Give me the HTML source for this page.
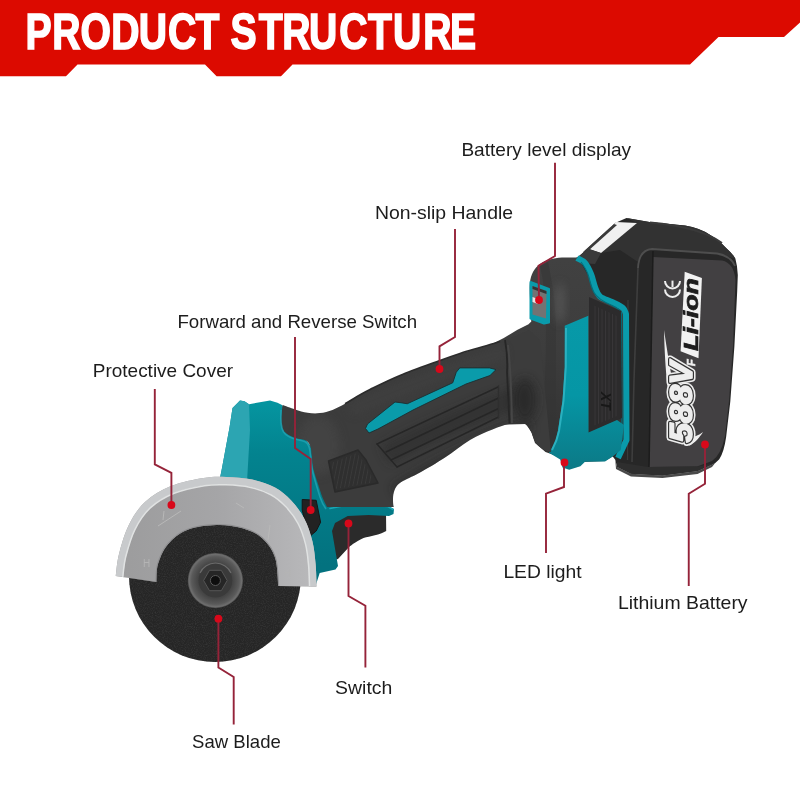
<!DOCTYPE html>
<html><head><meta charset="utf-8">
<style>
html,body{margin:0;padding:0;background:#fff;width:800px;height:800px;overflow:hidden}
svg{display:block;will-change:transform}
.lbl{font-family:"Liberation Sans",sans-serif;font-size:18.5px;fill:#1c1c1c}
.ttl{font-family:"Liberation Sans",sans-serif;font-weight:bold;font-size:50px;fill:#fff}
.ln{fill:none;stroke:#952339;stroke-width:1.9}
.dot{fill:#d8081a}
.bi{font-family:"Liberation Sans",sans-serif;font-weight:bold;font-style:italic}
</style></head>
<body>
<svg width="800" height="800" viewBox="0 0 800 800">
<defs>
  <filter id="soft" x="-50%" y="-50%" width="200%" height="200%"><feGaussianBlur stdDeviation="5"/></filter>
  <filter id="noise" x="0" y="0" width="100%" height="100%">
    <feTurbulence type="fractalNoise" baseFrequency="0.9" numOctaves="2" seed="3" result="n"/>
    <feColorMatrix type="matrix" values="0 0 0 0 0.05  0 0 0 0 0.05  0 0 0 0 0.05  0 0 0 1.4 -0.6" in="n" result="c"/>
    <feComposite in="c" in2="SourceGraphic" operator="in"/>
  </filter>
  <radialGradient id="gNut" cx="0.5" cy="0.5" r="0.5">
    <stop offset="0" stop-color="#3c3c3c"/>
    <stop offset="0.65" stop-color="#464646"/>
    <stop offset="0.86" stop-color="#5a5a5a"/>
    <stop offset="0.95" stop-color="#6e6e6e"/>
    <stop offset="1" stop-color="#505050"/>
  </radialGradient>
  <linearGradient id="gTealF" gradientUnits="userSpaceOnUse" x1="0" y1="405" x2="0" y2="565">
    <stop offset="0" stop-color="#05949f"/>
    <stop offset="0.3" stop-color="#03838f"/>
    <stop offset="1" stop-color="#03727f"/>
  </linearGradient>
  <linearGradient id="gTealR" gradientUnits="userSpaceOnUse" x1="0" y1="320" x2="0" y2="470">
    <stop offset="0" stop-color="#0799a8"/>
    <stop offset="0.5" stop-color="#0596a5"/>
    <stop offset="1" stop-color="#0c7986"/>
  </linearGradient>
  <linearGradient id="gGuardH" gradientUnits="userSpaceOnUse" x1="120" y1="0" x2="316" y2="0">
    <stop offset="0" stop-color="#9c9c9d"/>
    <stop offset="0.5" stop-color="#a5a5a7"/>
    <stop offset="1" stop-color="#b9b9bb"/>
  </linearGradient>
  <linearGradient id="gHous" gradientUnits="userSpaceOnUse" x1="0" y1="260" x2="0" y2="460">
    <stop offset="0" stop-color="#414141"/>
    <stop offset="0.45" stop-color="#3d3d3d"/>
    <stop offset="1" stop-color="#303030"/>
  </linearGradient>
  <linearGradient id="gGuard" x1="0" y1="0" x2="0" y2="1">
    <stop offset="0" stop-color="#d2d2d2"/>
    <stop offset="1" stop-color="#bdbdbd"/>
  </linearGradient>
</defs>
<!-- banner -->
<polygon fill="#dc0a00" points="0,0 800,0 800,22.5 784,37 718.5,37 690,64.5 292.5,64.5 281,76.3 216.6,76.3 205,64.6 77.5,64.4 66,76.25 0,76.25"/>
<g transform="translate(0,49.3) scale(0.783,1)"><text class="ttl" y="0" stroke="#fff" stroke-width="1.6" x="32.69 66.67 102.81 142.02 177.14 214.43 249.68 294.38 330.33 360.54 394.76 433.21 469.86 501.92 540.61 574.84">PRODUCTSTRUCTURE</text></g>

<!-- ===== TOOL ===== -->
<g id="tool">
  <!-- ===== battery ===== -->
  <path fill="#272727" d="M576,259 L615,223 L626.5,218 L650.9,222.2 L685,225.4 Q700,228 709.4,234.4 Q720,241 725.6,247.4 Q733,254 735.4,258.7 Q737.5,266 737.8,275 L737.2,291.3 L734.4,346.3 L730.3,401.4 L726.1,437.2 Q724,452 719.3,459.2 L715,463.25 L697.5,471 L662.5,475.5 L631,473.75 L617,466.75 L615.25,459.75 L600,440 L592,300 Z"/>
  <path fill="#323232" d="M626.5,218 L650.9,222.2 L685,225.4 Q700,228 709.4,234.4 Q720,241 725.6,247.4 Q733,254 735.4,258.7 L717,253.5 L652,249 Q641,250 638,262 L620,250 L601,253 L637,223 Z"/>
  <!-- face frame highlight -->
  <path fill="none" stroke="#4e4e4e" stroke-width="1.8" d="M638,268 Q639,250 652,249 L717,253.5 Q731,256 735,266"/>
  <path fill="none" stroke="#3e3e3e" stroke-width="1.6" d="M638,268 L634,380 L632,462"/>
  <!-- face inner panel -->
  <path fill="#424042" d="M653,257 L722,260.5 Q734,263 735.5,280 L733,346 L729,401 L725,436 Q721,455 712,461 L697,466.5 L649,467 Z"/>
  <path fill="none" stroke="#1c1c1c" stroke-width="1.5" d="M653,251 L649,467"/>
  <path fill="none" stroke="#3a3a3a" stroke-width="1.2" d="M628,300 L627.5,460"/>
  <!-- top highlight curve -->
  <path fill="none" stroke="#3a3a3a" stroke-width="2" d="M650,222.5 Q700,227 722,243"/>
  <!-- white stripe -->
  <polygon fill="#f0f0f0" points="589,249 616,222 637,223 601,253"/>
  <polygon fill="#3a3a3a" points="583,252 614,224 617,225 588,251"/>
  <polygon fill="#3a3a3a" points="576,258 589,249 601,253 595,264 580,263"/>
  <!-- base plate -->
  <path fill="#4a4a4a" d="M615.25,459.75 L617,466.75 L631,473.75 L662.5,475.5 L697.5,471 L715,463.25 L712,467 L697.5,474 L662.5,478 L631,476.5 L616,469 Z"/>
  <path fill="#2e2e2e" d="M617,462 L648,467 L697,466.5 L715,463.25 L697.5,471 L662.5,475.5 L631,473.75 L617,466.75 Z"/>

  <!-- CE -->
  <g fill="none" stroke="#eee" stroke-width="2">
    <path d="M665,281 A7.5,7.5 0 0 0 680,281"/>
    <path d="M665,289.5 A7.5,7.5 0 0 0 680,289.5"/>
    <path d="M672.5,280.6 L672.5,287"/>
  </g>
  <!-- Li-ion box -->
  <polygon fill="#f2f2f2" points="684.7,271.7 701.9,277.9 698.5,358.2 680.6,351.3"/>
  <text class="bi" font-size="20" fill="#1e1e1e" stroke="#1e1e1e" stroke-width="0.7" transform="translate(697.5,351) rotate(-90)" textLength="73" lengthAdjust="spacingAndGlyphs">Li-ion</text>
  <!-- swoosh -->
  <path fill="#f0f0f0" d="M664,330 C665,370 668,405 676,427.5 C680,437 684,442 689.5,445.5 C695,443 700,437 703,432 C698,436 692,438 688,437 C681,425 676,400 673,385 C670,368 667,350 664,330 Z"/>
  <!-- 588V -->
  <g transform="translate(692,442.5) rotate(-90)">
    <text class="bi" font-size="32" x="0" y="0" fill="#eee" stroke="#eee" stroke-width="7" stroke-linejoin="round" textLength="81" lengthAdjust="spacingAndGlyphs">588V</text>
    <text class="bi" font-size="32" x="0" y="0" fill="#333" stroke="#333" stroke-width="4" stroke-linejoin="round" textLength="81" lengthAdjust="spacingAndGlyphs">588V</text>
    <text class="bi" font-size="32" x="0" y="0" fill="#eee" stroke="#eee" stroke-width="1.6" stroke-linejoin="round" textLength="81" lengthAdjust="spacingAndGlyphs">588V</text>
  </g>
  <text class="bi" font-size="11" fill="#eee" stroke="#eee" stroke-width="0.6" transform="translate(695,366) rotate(-90)">F</text>

  <!-- ===== rear housing ===== -->
  <path fill="url(#gHous)" d="M490,345 L503.8,338 L517.5,329.8 L528.5,324.3 L531.3,321.5 C531.1,317.9 530.2,306.4 530.0,300.0 C529.8,293.6 529.4,287.7 529.9,283.0 C530.4,278.3 531.3,275.2 533.0,272.0 C534.7,268.8 537.2,266.1 540.0,264.0 C542.8,261.9 546.3,260.6 550.0,259.5 C553.7,258.4 557.3,257.9 562.0,257.6 C566.7,257.3 575.3,257.6 578.0,257.6 L600,297 L626,309 L627,440 L620,452 L605,461 L582,462 L570,467.5 L559.5,457 L545.5,452 L535,443 L531.5,432.5 L526,424 L490,425 Z"/>
  <!-- shading band -->
  <path fill="#333" opacity="0.5" d="M548,262 Q556,300 556,330 L556,440 L545,450 L540,440 Q546,400 546,330 Q546,290 540,266 Z"/>
  <ellipse cx="560" cy="303" rx="5" ry="20" fill="#5a5a5a" opacity="0.8" filter="url(#soft)"/>
  <!-- teal trim -->
  <path fill="none" stroke="#0a9bab" stroke-width="6" stroke-linejoin="round" d="M577,258 C578.3,258.8 582.7,260.3 585.0,263.0 C587.3,265.7 589.3,270.0 591.0,274.0 C592.7,278.0 593.5,283.2 595.0,287.0 C596.5,290.8 597.2,294.0 600.0,296.5 C602.8,299.0 608.2,300.1 612.0,302.0 C615.8,303.9 620.7,306.0 623.0,308.0 C625.3,310.0 625.5,313.0 626.0,314.0 L626.5,440 L618,458"/>
  <path fill="none" stroke="#056f7c" stroke-width="1.2" d="M581,262 C584,266 587,271 588.5,276 C590,282 591.5,288 594,292.5 C597,298 604,302 611,305 C616,307.5 620,309 621.5,313 L622,440"/>
  <!-- textured dark panel -->
  <polygon fill="#2c2b2c" points="589,297 621,311 622,418 589,432.5"/>
  <clipPath id="cpTex"><polygon points="593,305 617,316 617,416 593,426"/></clipPath>
  <g clip-path="url(#cpTex)" stroke="#383638" stroke-width="1.1">
    <path d="M595,300 V430 M598.5,300 V430 M602,300 V430 M605.5,300 V430 M609,300 V430 M612.5,300 V430 M616,300 V430"/>
  </g>
  <!-- teal side panel -->
  <path fill="url(#gTealR)" d="M564.7,325.8 L588.3,315.7 L588.5,432.5 L617,420 L624,425 L620.75,450 L612,457 L605,461.4 L585,461.8 L580.4,466.3 L569.2,469.7 L562.5,467.4 L560.2,459.6 L549,452.8 L553.5,446 Q557,438 558,430.3 L562.5,401 L564.7,367.4 Z"/>
  <path fill="none" stroke="#2bb0bf" stroke-width="2" d="M566,328 L565.8,367 L563.5,401 L559,431 Q557,441 552,450"/>
  <!-- XT mark -->
  <text class="bi" font-size="14" fill="#181818" transform="translate(601,392) rotate(90)">XT</text>
  <!-- battery display -->
  <polygon fill="#0a9bab" stroke="#0a9bab" stroke-width="2" stroke-linejoin="round" points="530.5,282 549,289 549,322.5 544,323.5 530.5,318.5"/>
  <polygon fill="#737373" points="532.5,286 546.5,291 546,318.5 532.5,314.5"/><polygon fill="#333" points="532.5,286 546.5,291 546.5,294 532.5,289"/>
  <polygon fill="#e8e8e8" points="532.5,297 538,299 538,304 532.5,302"/>

  <!-- trigger -->
  <path fill="#2b2b2b" d="M326,520 L345,510 L386,510 L386.2,531 C380,535 370,536 363.5,538 C355,542 350,546 347.7,548.5 L338,559 L328,562 Z"/>
  <!-- ===== front teal housing ===== -->
  <path fill="url(#gTealF)" d="M232.5,408 L240,400.5 L244.5,401.25 L249,404.25 L270,400.5 L277.5,402.75 L282,405 L290,420 L330,470 L338,503 L342.5,505.5 L368.7,504.5 L388,506 L394,509 L393.5,514 L389,516 L368.7,515 L347.7,516 L335,523 L332,531 L338,566 L335.5,569.4 L319.7,573 L315.6,585.7 L260,560 L215,520 L220,478 L222,468 L229.5,427.5 Z"/>
  <path fill="none" stroke="#1aa6b5" stroke-width="1.6" stroke-linecap="round" d="M330,508.5 L342.5,506 L368.7,505 L388,506.5 L393,509.5"/>
  <!-- lighter left face -->
  <path fill="#2ca5b2" d="M232.5,408 L240,400.5 L244.5,401.25 L249,404.25 L250,430 L247,482 L220,478 L222,468 L229.5,427.5 Z"/>
  <!-- handle + front dark body -->
  <path fill="#3c3c3c" d="M282.5,405 C284.6,405.7 290.8,408.1 295.0,409.4 C299.2,410.7 303.3,412.1 307.5,412.8 C311.7,413.4 315.8,413.6 320.0,413.1 C324.2,412.6 328.3,411.6 332.5,410.0 C336.7,408.4 340.8,406.0 345.0,403.8 C349.2,401.5 353.3,398.6 357.5,396.2 C361.7,393.9 362.9,393.0 370.0,389.5 C377.1,386.0 388.3,380.3 400.0,375.5 C411.7,370.7 430.0,364.2 440.0,360.5 C450.0,356.8 453.3,355.7 460.0,353.5 C466.7,351.3 473.3,349.5 480.0,347.5 C486.7,345.5 494.7,343.2 500.0,341.5 C505.3,339.8 507.2,339.4 512.0,337.5 C516.8,335.6 526.2,331.2 529.0,330.0 L540,340 L551,452 C550.0,451.8 547.5,452.0 545.0,450.5 C542.5,449.0 538.5,446.5 536.0,443.0 C533.5,439.5 532.2,432.9 530.0,429.5 C527.8,426.1 525.8,423.8 522.5,422.8 C519.2,421.8 515.5,422.4 510.5,423.5 C505.5,424.6 499.2,426.8 492.5,429.5 C485.8,432.2 477.9,435.3 470.0,440.0 C462.1,444.7 453.3,452.1 445.0,457.5 C436.7,462.9 426.7,468.8 420.0,472.5 C413.3,476.2 408.8,477.9 405.0,480.0 C401.2,482.1 399.4,482.9 397.5,485.0 C395.6,487.1 394.5,489.8 393.8,492.5 C393.0,495.2 393.0,498.1 393.0,501.0 C393.0,503.9 393.6,506.5 393.8,507.0 L327,507 C326.2,505.4 324.0,501.3 322.5,497.5 C321.0,493.7 319.5,488.8 318.0,484.0 C316.5,479.2 314.5,473.5 313.5,469.0 C312.5,464.5 312.5,460.8 312.0,457.0 C311.5,453.2 311.5,449.2 310.5,446.5 C309.5,443.8 308.8,442.0 306.0,440.5 C303.2,439.0 297.6,439.0 294.0,437.5 C290.4,436.0 286.4,434.0 284.2,431.5 C282.1,429.0 281.5,426.9 281.2,422.5 C281.0,418.1 282.3,407.9 282.5,405.0 Z"/>
  <clipPath id="cpBody"><path d="M282.5,405 C284.6,405.7 290.8,408.1 295.0,409.4 C299.2,410.7 303.3,412.1 307.5,412.8 C311.7,413.4 315.8,413.6 320.0,413.1 C324.2,412.6 328.3,411.6 332.5,410.0 C336.7,408.4 340.8,406.0 345.0,403.8 C349.2,401.5 353.3,398.6 357.5,396.2 C361.7,393.9 362.9,393.0 370.0,389.5 C377.1,386.0 388.3,380.3 400.0,375.5 C411.7,370.7 430.0,364.2 440.0,360.5 C450.0,356.8 453.3,355.7 460.0,353.5 C466.7,351.3 473.3,349.5 480.0,347.5 C486.7,345.5 494.7,343.2 500.0,341.5 C505.3,339.8 507.2,339.4 512.0,337.5 C516.8,335.6 526.2,331.2 529.0,330.0 L540,340 L551,452 C550.0,451.8 547.5,452.0 545.0,450.5 C542.5,449.0 538.5,446.5 536.0,443.0 C533.5,439.5 532.2,432.9 530.0,429.5 C527.8,426.1 525.8,423.8 522.5,422.8 C519.2,421.8 515.5,422.4 510.5,423.5 C505.5,424.6 499.2,426.8 492.5,429.5 C485.8,432.2 477.9,435.3 470.0,440.0 C462.1,444.7 453.3,452.1 445.0,457.5 C436.7,462.9 426.7,468.8 420.0,472.5 C413.3,476.2 408.8,477.9 405.0,480.0 C401.2,482.1 399.4,482.9 397.5,485.0 C395.6,487.1 394.5,489.8 393.8,492.5 C393.0,495.2 393.0,498.1 393.0,501.0 C393.0,503.9 393.6,506.5 393.8,507.0 L327,507 C326.2,505.4 324.0,501.3 322.5,497.5 C321.0,493.7 319.5,488.8 318.0,484.0 C316.5,479.2 314.5,473.5 313.5,469.0 C312.5,464.5 312.5,460.8 312.0,457.0 C311.5,453.2 311.5,449.2 310.5,446.5 C309.5,443.8 308.8,442.0 306.0,440.5 C303.2,439.0 297.6,439.0 294.0,437.5 C290.4,436.0 286.4,434.0 284.2,431.5 C282.1,429.0 281.5,426.9 281.2,422.5 C281.0,418.1 282.3,407.9 282.5,405.0 Z"/></clipPath>
  <g clip-path="url(#cpBody)">
    <ellipse cx="318" cy="445" rx="22" ry="30" fill="#484848" opacity="0.55" filter="url(#soft)"/>
    <path d="M350,410 Q420,380 505,352" fill="none" stroke="#454545" stroke-width="12" opacity="0.45" filter="url(#soft)"/>
    <path d="M395,492 Q450,455 530,425" fill="none" stroke="#262626" stroke-width="12" opacity="0.6" filter="url(#soft)"/>
    <path d="M385,455 Q450,420 525,395" fill="none" stroke="#2c2c2c" stroke-width="22" opacity="0.5" filter="url(#soft)"/>
    <ellipse cx="525" cy="400" rx="12" ry="22" fill="#282828" opacity="0.7" filter="url(#soft)"/>
  </g>
  <path fill="none" stroke="#2c2c2c" stroke-width="1.6" d="M345.0,403.8 C349.2,401.5 353.3,398.6 357.5,396.2 C361.7,393.9 362.9,393.0 370.0,389.5 C377.1,386.0 388.3,380.3 400.0,375.5 C411.7,370.7 430.0,364.2 440.0,360.5 C450.0,356.8 453.3,355.7 460.0,353.5 C466.7,351.3 473.3,349.5 480.0,347.5 C486.7,345.5 494.7,343.2 500.0,341.5"/>
  <path fill="none" stroke="#22a3b3" stroke-width="1.6" opacity="0.8" d="M281,410 C280.5,418 280.5,427 283.5,432 C286,435.5 291,437.8 294,438.8 C298,440 303.5,440.5 305.5,442 C308.5,444 309.5,447 310,451 C310.5,456 311,462 312,469 C313.5,476 316,484 320,497 C322,503 324.5,507 326,509"/>
  <!-- handle collar -->
  <path fill="none" stroke="#262626" stroke-width="1.8" d="M505,340 Q508,356 507,372 L509.5,423.5"/><path fill="none" stroke="#464646" stroke-width="2" d="M508,345 Q511,370 512,423"/>
  <!-- grip lines -->
  <g fill="none" stroke="#262626" stroke-width="1.4" stroke-linecap="round">
    <path d="M377,444 L498,387"/>
    <path d="M386,452 L498.5,398"/>
    <path d="M391,460 L498.5,408.5"/>
    <path d="M397,467 L498.5,417"/>
    <path d="M377,444 L397,467"/>
    <path d="M498.5,386 L498.5,418" stroke="#2e2e2e"/>
  </g>
  <!-- handle teal stripe -->
  <polygon fill="#0a9baa" stroke="#1b2f31" stroke-width="0.9" stroke-linejoin="round" points="365.5,428.5 367.5,424 395,402 402,402.9 407.25,403.75 452.75,382.75 456.25,372.25 459.75,367.9 489.5,367.9 496,369.6 490,375.5 466,384 413,410 378,429 369,433"/>
  <!-- textured patch -->
  <polygon fill="#2f2f2f" stroke="#2a2a2a" stroke-width="1.5" stroke-linejoin="round" points="328.5,461 358,450 366,460 378,483 335,492"/>
  <clipPath id="cpTex2"><polygon points="331,463 357,453 364,462 375,482 336,489"/></clipPath>
  <g clip-path="url(#cpTex2)" stroke="#3a3a3a" stroke-width="1">
    <path d="M328,490 L336,450 M332,490 L340,450 M336,490 L344,450 M340,490 L348,450 M344,490 L352,450 M348,490 L356,450 M352,490 L360,450 M356,490 L364,450 M360,490 L368,450 M364,490 L372,450 M368,490 L376,450"/>
  </g>
  <!-- fwd/rev switch -->
  <path fill="#222" stroke="#151515" stroke-width="1" stroke-linejoin="round" d="M302.2,499.5 L316.2,500.3 L320.6,522.2 L316.2,531 L311,535.3 L306.6,527.5 L302.2,510 Z"/>

  <!-- ===== disc ===== -->
  <circle cx="215" cy="576" r="86" fill="#262626"/>
  <circle cx="215" cy="576" r="86" fill="#262626" filter="url(#noise)"/>
  <!-- ===== guard ===== -->
  <clipPath id="cpG"><path d="M115.75,576 C116.3,572.3 116.8,562.5 119.0,554.0 C121.2,545.5 124.4,533.7 128.8,525.0 C133.1,516.3 138.0,508.5 145.0,502.0 C152.0,495.5 161.2,490.0 171.0,486.0 C180.8,482.0 194.3,479.4 203.5,477.9 C212.7,476.4 218.1,476.6 226.2,476.9 C234.4,477.2 244.1,477.7 252.2,479.5 C260.4,481.3 268.5,484.1 275.0,487.6 C281.5,491.1 286.4,495.5 291.2,500.6 C296.1,505.8 300.7,511.7 304.2,518.5 C307.8,525.3 310.5,533.7 312.4,541.2 C314.3,548.8 314.9,556.5 315.6,564.0 C316.3,571.5 316.4,582.8 316.6,586.5 L278.25,586 C277.7,581.2 277.7,565.5 275.0,557.5 C272.3,549.5 267.4,542.9 262.0,538.0 C256.6,533.1 250.1,530.4 242.5,528.2 C234.9,526.1 225.7,524.7 216.5,525.0 C207.3,525.3 195.4,526.6 187.2,529.9 C179.1,533.1 172.6,538.8 167.8,544.5 C162.9,550.2 159.9,557.8 158.0,564.0 C156.1,570.2 156.7,578.9 156.4,581.9 Z"/></clipPath>
  <path fill="url(#gGuardH)" d="M115.75,576 C116.3,572.3 116.8,562.5 119.0,554.0 C121.2,545.5 124.4,533.7 128.8,525.0 C133.1,516.3 138.0,508.5 145.0,502.0 C152.0,495.5 161.2,490.0 171.0,486.0 C180.8,482.0 194.3,479.4 203.5,477.9 C212.7,476.4 218.1,476.6 226.2,476.9 C234.4,477.2 244.1,477.7 252.2,479.5 C260.4,481.3 268.5,484.1 275.0,487.6 C281.5,491.1 286.4,495.5 291.2,500.6 C296.1,505.8 300.7,511.7 304.2,518.5 C307.8,525.3 310.5,533.7 312.4,541.2 C314.3,548.8 314.9,556.5 315.6,564.0 C316.3,571.5 316.4,582.8 316.6,586.5 L278.25,586 C277.7,581.2 277.7,565.5 275.0,557.5 C272.3,549.5 267.4,542.9 262.0,538.0 C256.6,533.1 250.1,530.4 242.5,528.2 C234.9,526.1 225.7,524.7 216.5,525.0 C207.3,525.3 195.4,526.6 187.2,529.9 C179.1,533.1 172.6,538.8 167.8,544.5 C162.9,550.2 159.9,557.8 158.0,564.0 C156.1,570.2 156.7,578.9 156.4,581.9 Z"/>
  <g clip-path="url(#cpG)">
    <path fill="none" stroke="#c8cacc" stroke-width="15" d="M115.75,576 C116.3,572.3 116.8,562.5 119.0,554.0 C121.2,545.5 124.4,533.7 128.8,525.0 C133.1,516.3 138.0,508.5 145.0,502.0 C152.0,495.5 161.2,490.0 171.0,486.0 C180.8,482.0 194.3,479.4 203.5,477.9 C212.7,476.4 218.1,476.6 226.2,476.9 C234.4,477.2 244.1,477.7 252.2,479.5 C260.4,481.3 268.5,484.1 275.0,487.6 C281.5,491.1 286.4,495.5 291.2,500.6 C296.1,505.8 300.7,511.7 304.2,518.5 C307.8,525.3 310.5,533.7 312.4,541.2 C314.3,548.8 314.9,556.5 315.6,564.0 C316.3,571.5 316.4,582.8 316.6,586.5"/>
    <path fill="none" stroke="#e0e2e2" stroke-width="1.6" transform="translate(216,590) scale(0.93) translate(-216,-590)" d="M115.75,576 C116.3,572.3 116.8,562.5 119.0,554.0 C121.2,545.5 124.4,533.7 128.8,525.0 C133.1,516.3 138.0,508.5 145.0,502.0 C152.0,495.5 161.2,490.0 171.0,486.0 C180.8,482.0 194.3,479.4 203.5,477.9 C212.7,476.4 218.1,476.6 226.2,476.9 C234.4,477.2 244.1,477.7 252.2,479.5 C260.4,481.3 268.5,484.1 275.0,487.6 C281.5,491.1 286.4,495.5 291.2,500.6 C296.1,505.8 300.7,511.7 304.2,518.5 C307.8,525.3 310.5,533.7 312.4,541.2 C314.3,548.8 314.9,556.5 315.6,564.0 C316.3,571.5 316.4,582.8 316.6,586.5"/>
    <path fill="none" stroke="#8e8e90" stroke-width="2" d="M278.25,586 C277.7,581.2 277.7,565.5 275.0,557.5 C272.3,549.5 267.4,542.9 262.0,538.0 C256.6,533.1 250.1,530.4 242.5,528.2 C234.9,526.1 225.7,524.7 216.5,525.0 C207.3,525.3 195.4,526.6 187.2,529.9 C179.1,533.1 172.6,538.8 167.8,544.5 C162.9,550.2 159.9,557.8 158.0,564.0 C156.1,570.2 156.7,578.9 156.4,581.9"/>
    <path fill="none" stroke="#909090" stroke-width="2" d="M115.7,577.5 L156.4,582.5 M278.25,587 L316.6,587.5"/>
    <!-- markings -->
    <path fill="none" stroke="#b8b8b8" stroke-width="1" d="M158,526 L181,511 M164,511 L163,520 M236,503 L244,508 M268,540 L270,525"/>
    <text x="143" y="567" font-family="Liberation Sans" font-size="10" fill="#b4b4b4">H</text>
    <text x="284" y="577" font-family="Liberation Sans" font-size="10" fill="#b4b4b4">H</text>
  </g>
  <!-- nut -->
  <circle cx="215.4" cy="580.5" r="27.6" fill="url(#gNut)"/>
    <circle cx="215.4" cy="580.5" r="17" fill="#3a3a3a"/>
  <path fill="none" stroke="#6a6a6a" stroke-width="1.2" d="M200,573 A17,17 0 0 1 231,573"/>
  <polygon fill="#262626" stroke="#555" stroke-width="1" points="227.2,580.5 221.3,590.7 209.5,590.7 203.6,580.5 209.5,570.3 221.3,570.3"/>
  <circle cx="215.4" cy="580.5" r="5" fill="#0e0e0e" stroke="#5a5a5a" stroke-width="1"/>
</g>

<!-- ===== callout lines ===== -->
<polyline class="ln" points="555,162.7 555,256 538.5,265.8 539,300"/>
<circle class="dot" cx="539" cy="300" r="3.9"/>
<polyline class="ln" points="455,229 455,337 439.5,346.4 439.5,369"/>
<circle class="dot" cx="439.5" cy="369" r="3.9"/>
<polyline class="ln" points="295,337 295,448 310.7,459 310.7,510"/>
<circle class="dot" cx="310.7" cy="510" r="3.9"/>
<polyline class="ln" points="154.8,389 154.8,464.3 171.4,472.8 171.4,505"/>
<circle class="dot" cx="171.4" cy="505" r="3.9"/>
<polyline class="ln" points="564,462 564,487 546,493.6 546,553"/>
<circle class="dot" cx="564.5" cy="462.4" r="3.9"/>
<polyline class="ln" points="705,444.5 705,483.75 688.75,493.75 688.75,586"/>
<circle class="dot" cx="705" cy="444.5" r="3.9"/>
<polyline class="ln" points="348.5,523.4 348.5,596 365.4,605.7 365.4,667.5"/>
<circle class="dot" cx="348.5" cy="523.4" r="3.9"/>
<polyline class="ln" points="218.4,618.7 218.4,667.5 233.7,677 233.7,724.4"/>
<circle class="dot" cx="218.4" cy="618.7" r="3.9"/>

<!-- ===== labels ===== -->
<text class="lbl" x="461.4" y="155.7" textLength="169.7" lengthAdjust="spacingAndGlyphs">Battery level display</text>
<text class="lbl" x="374.9" y="218.7" textLength="138.2" lengthAdjust="spacingAndGlyphs">Non-slip Handle</text>
<text class="lbl" x="177.4" y="327.6" textLength="239.7" lengthAdjust="spacingAndGlyphs">Forward and Reverse Switch</text>
<text class="lbl" x="92.8" y="377" textLength="140.2" lengthAdjust="spacingAndGlyphs">Protective Cover</text>
<text class="lbl" x="503.4" y="578" textLength="78.2" lengthAdjust="spacingAndGlyphs">LED light</text>
<text class="lbl" x="617.9" y="608.75" textLength="129.7" lengthAdjust="spacingAndGlyphs">Lithium Battery</text>
<text class="lbl" x="335.1" y="694" textLength="57.2" lengthAdjust="spacingAndGlyphs">Switch</text>
<text class="lbl" x="192.1" y="747.8" textLength="88.7" lengthAdjust="spacingAndGlyphs">Saw Blade</text>
</svg>
</body></html>
